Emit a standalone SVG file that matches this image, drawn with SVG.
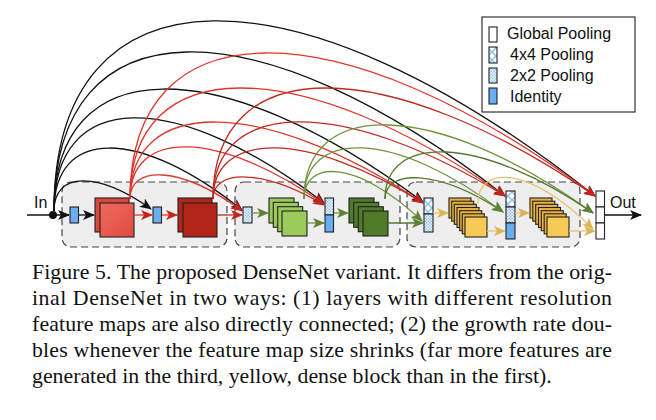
<svg xmlns="http://www.w3.org/2000/svg" width="656" height="420" viewBox="0 0 656 420">
<style>
.blk{fill:#eeeeee;stroke:#444;stroke-width:1.2;stroke-dasharray:7 4}
.ol{stroke:#222;stroke-width:1.1}
.sans{font-family:"Liberation Sans",Arial,sans-serif;font-size:16px;fill:#111}
.cap{font-family:"Liberation Serif","Times New Roman",serif;font-size:21.8px;fill:#111}
.c{fill:none;stroke-width:1.3}
.k{stroke:#111;marker-end:url(#mk)}
.r1{stroke:#e0352a;marker-end:url(#mr)}
.r2{stroke:#c02a20;marker-end:url(#mr)}
.g1{stroke:#6f9440;marker-end:url(#mg)}
.g2{stroke:#55782f;marker-end:url(#mg)}
.y{stroke:#e6c36c;marker-end:url(#my)}
.idn{fill:#6aaef2}
.rd1{fill:url(#gr1)}
.rd1b{fill:#d9473d}
.rd2{fill:#b2261a}
.lg{fill:#9ccb5c}
.dg{fill:#4f7b2b}
.yl{fill:#eab443}
.ylf{fill:#f7ca58}
</style>
<defs>
<linearGradient id="gr1" x1="0" y1="0" x2="1" y2="1"><stop offset="0" stop-color="#ef6a5e"/><stop offset="1" stop-color="#e04a40"/></linearGradient>
<pattern id="p2" width="3" height="3" patternUnits="userSpaceOnUse"><rect width="3" height="3" fill="#fff"/><rect width="1.5" height="1.5" fill="#8cc0ee"/><rect x="1.5" y="1.5" width="1.5" height="1.5" fill="#8cc0ee"/></pattern>
<pattern id="p4" width="8" height="8" patternUnits="userSpaceOnUse"><rect width="8" height="8" fill="#fff"/><path d="M0,0 L8,8 M8,0 L0,8" stroke="#8cc0ee" stroke-width="1.4"/></pattern>
<marker id="mk" viewBox="0 0 12 10" refX="11" refY="5" markerWidth="12" markerHeight="10" markerUnits="userSpaceOnUse" orient="auto"><path d="M0,0 L12,5 L0,10 L3,5 Z" fill="#111"/></marker>
<marker id="mr" viewBox="0 0 12 10" refX="11" refY="5" markerWidth="12" markerHeight="10" markerUnits="userSpaceOnUse" orient="auto"><path d="M0,0 L12,5 L0,10 L3,5 Z" fill="#c4241c"/></marker>
<marker id="mg" viewBox="0 0 12 10" refX="11" refY="5" markerWidth="12" markerHeight="10" markerUnits="userSpaceOnUse" orient="auto"><path d="M0,0 L12,5 L0,10 L3,5 Z" fill="#5f8236"/></marker>
<marker id="my" viewBox="0 0 12 10" refX="11" refY="5" markerWidth="12" markerHeight="10" markerUnits="userSpaceOnUse" orient="auto"><path d="M0,0 L12,5 L0,10 L3,5 Z" fill="#dcb55a"/></marker>
</defs>
<rect width="656" height="420" fill="#fff"/>

<g id="blocks">
<rect class="blk" x="62" y="182" width="165" height="65" rx="9"/>
<rect class="blk" x="235" y="182" width="165" height="65" rx="9"/>
<rect class="blk" x="407" y="182" width="173" height="65" rx="9"/>
</g>

<g id="legend">
<rect x="482" y="17" width="153" height="95" fill="#fff" stroke="#333" stroke-width="1.2"/>
<rect class="ol" x="489" y="27" width="8" height="15" fill="#fff"/>
<rect class="ol" x="489" y="47" width="8" height="16" fill="url(#p4)"/>
<rect class="ol" x="489" y="68" width="8" height="15" fill="url(#p2)"/>
<rect class="ol idn" x="489" y="88" width="8" height="16"/>
<text class="sans" x="507" y="39">Global Pooling</text>
<text class="sans" x="510" y="60">4x4 Pooling</text>
<text class="sans" x="510" y="81">2x2 Pooling</text>
<text class="sans" x="510" y="102">Identity</text>
</g>

<g id="input">
<text class="sans" x="34" y="208">In</text>
<circle cx="53" cy="215" r="4" fill="#111"/>
</g>
<g id="identity1"><rect class="ol idn" x="70" y="207" width="8.5" height="16"/></g>
<g id="conv1a">
<rect class="ol rd1b" x="95" y="198" width="34" height="34"/>
<rect class="ol rd1" x="100" y="203" width="34" height="34"/>
</g>
<g id="identity2"><rect class="ol idn" x="153" y="207" width="8.5" height="16"/></g>
<g id="conv1b">
<rect class="ol rd2" x="178" y="198" width="34" height="34"/>
<rect class="ol rd2" x="183" y="203" width="34" height="34"/>
</g>
<g id="pool2"><rect class="ol" x="243" y="207" width="9" height="16" fill="url(#p2)"/></g>
<g id="conv2a">
<rect class="ol lg" x="269" y="198" width="25" height="25"/>
<rect class="ol lg" x="273.3" y="202.3" width="25" height="25"/>
<rect class="ol lg" x="277.7" y="206.7" width="25" height="25"/>
<rect class="ol lg" x="282" y="211" width="25" height="25"/>
</g>
<g id="node2b">
<rect class="ol" x="325" y="198" width="8.5" height="17" fill="url(#p2)"/>
<rect class="ol idn" x="325" y="215" width="8.5" height="17"/>
</g>
<g id="conv2b">
<rect class="ol dg" x="349" y="198" width="25" height="25"/>
<rect class="ol dg" x="353.7" y="202.3" width="25" height="25"/>
<rect class="ol dg" x="358.3" y="206.7" width="25" height="25"/>
<rect class="ol dg" x="363" y="211" width="25" height="25"/>
</g>
<g id="node3a">
<rect class="ol" x="424" y="198" width="9" height="16" fill="url(#p4)"/>
<rect class="ol" x="424" y="214" width="9" height="18" fill="url(#p2)"/>
</g>
<g id="conv3a">
<rect class="ol yl" x="449" y="198" width="22" height="20"/>
<rect class="ol yl" x="451.7" y="201.2" width="22" height="20"/>
<rect class="ol yl" x="454.3" y="204.3" width="22" height="20"/>
<rect class="ol yl" x="457" y="207.5" width="22" height="20"/>
<rect class="ol yl" x="459.7" y="210.7" width="22" height="20"/>
<rect class="ol yl" x="462.3" y="213.8" width="22" height="20"/>
<rect class="ol ylf" x="465" y="217" width="22" height="20"/>
</g>
<g id="node3b">
<rect class="ol" x="506" y="191" width="9" height="16" fill="url(#p4)"/>
<rect class="ol" x="506" y="207" width="9" height="16" fill="url(#p2)"/>
<rect class="ol idn" x="506" y="223" width="9" height="16"/>
</g>
<g id="conv3b">
<rect class="ol yl" x="530" y="198" width="22" height="20"/>
<rect class="ol yl" x="532.8" y="201.2" width="22" height="20"/>
<rect class="ol yl" x="535.7" y="204.3" width="22" height="20"/>
<rect class="ol yl" x="538.5" y="207.5" width="22" height="20"/>
<rect class="ol yl" x="541.3" y="210.7" width="22" height="20"/>
<rect class="ol yl" x="544.2" y="213.8" width="22" height="20"/>
<rect class="ol ylf" x="547" y="217" width="22" height="20"/>
</g>
<g id="output">
<rect class="ol" x="596" y="191" width="8.5" height="16" fill="#fff"/>
<rect class="ol" x="596" y="207" width="8.5" height="16" fill="#fff"/>
<rect class="ol" x="596" y="223" width="8.5" height="16" fill="#fff"/>
<text class="sans" x="610" y="208">Out</text>
</g>

<g id="connectors">
<path class="c k" d="M27,215 L69,215"/>
<path class="c k" d="M79,215 L94,215"/>
<path class="c r1" d="M134,215 L152,215"/>
<path class="c r1" d="M162,215 L177,215"/>
<path class="c r2" d="M217,215 L242,215"/>
<path class="c g1" d="M252,213 L268,213"/>
<path class="c g1" d="M307,223 L324,223"/>
<path class="c g1" d="M334,213 L348,213"/>
<path class="c g2" d="M388,223 L423,223"/>
<path class="c y" d="M433,213 L448,213"/>
<path class="c y" d="M487,231 L505,231"/>
<path class="c y" d="M515,213 L529,213"/>
<path class="c y" d="M569,231 L595,231"/>
<path class="c k" d="M605,215 L641,215"/>

<path class="c k" d="M54,211 C54,171.3 97.7,171.3 151,209"/>
<path class="c k" d="M54,211 C54,127.2 138.6,127.2 242,210"/>
<path class="c k" d="M54,211 C54,88.3 175.5,88.3 324,203"/>
<path class="c k" d="M54,211 C54,49.9 220,49.9 423,202"/>
<path class="c k" d="M54,211 C54,1.5 257,1.5 505,196"/>
<path class="c k" d="M54,211 C54,-39.9 297.5,-39.9 595,196"/>

<path class="c r1" d="M130,199 C130,165 180.4,165 242,211"/>
<path class="c r1" d="M130,199 C130,128.8 217.3,128.8 324,204"/>
<path class="c r1" d="M130,199 C130,95.7 261.9,95.7 423,203"/>
<path class="c r1" d="M130,199 C130,51.5 298.8,51.5 505,196"/>
<path class="c r1" d="M130,199 C130,4.8 339.3,4.8 595,196"/>

<path class="c r2" d="M213,199 C213,168.7 263,168.7 324,205"/>
<path class="c r2" d="M213,199 C213,130.3 307.5,130.3 423,203"/>
<path class="c r2" d="M213,199 C213,96.8 344.4,96.8 505,196"/>
<path class="c r2" d="M213,199 C213,51.5 384.9,51.5 595,196"/>

<path class="c g1" d="M304,199 C304,159.3 357.1,159.3 422,221"/>
<path class="c g1" d="M304,199 C304,128.8 393.6,128.8 503,212"/>
<path class="c g1" d="M304,199 C304,98 434,98 593,213"/>

<path class="c g2" d="M385,199 C385,168.8 438.1,168.8 503,212"/>
<path class="c g2" d="M385,199 C385,134 478.6,134 593,213"/>

<path class="c y" d="M478,203 C478,165.3 529.8,165.3 593,229"/>
</g>

<g id="caption">
<text class="cap" x="32" y="279" textLength="580" lengthAdjust="spacing">Figure 5. The proposed DenseNet variant. It differs from the orig-</text>
<text class="cap" x="32" y="305" textLength="580" lengthAdjust="spacing">inal DenseNet in two ways: (1) layers with different resolution</text>
<text class="cap" x="32" y="331" textLength="580" lengthAdjust="spacing">feature maps are also directly connected; (2) the growth rate dou-</text>
<text class="cap" x="32" y="357" textLength="580" lengthAdjust="spacing">bles whenever the feature map size shrinks (far more features are</text>
<text class="cap" x="32" y="383">generated in the third, yellow, dense block than in the first).</text>
</g>
</svg>
